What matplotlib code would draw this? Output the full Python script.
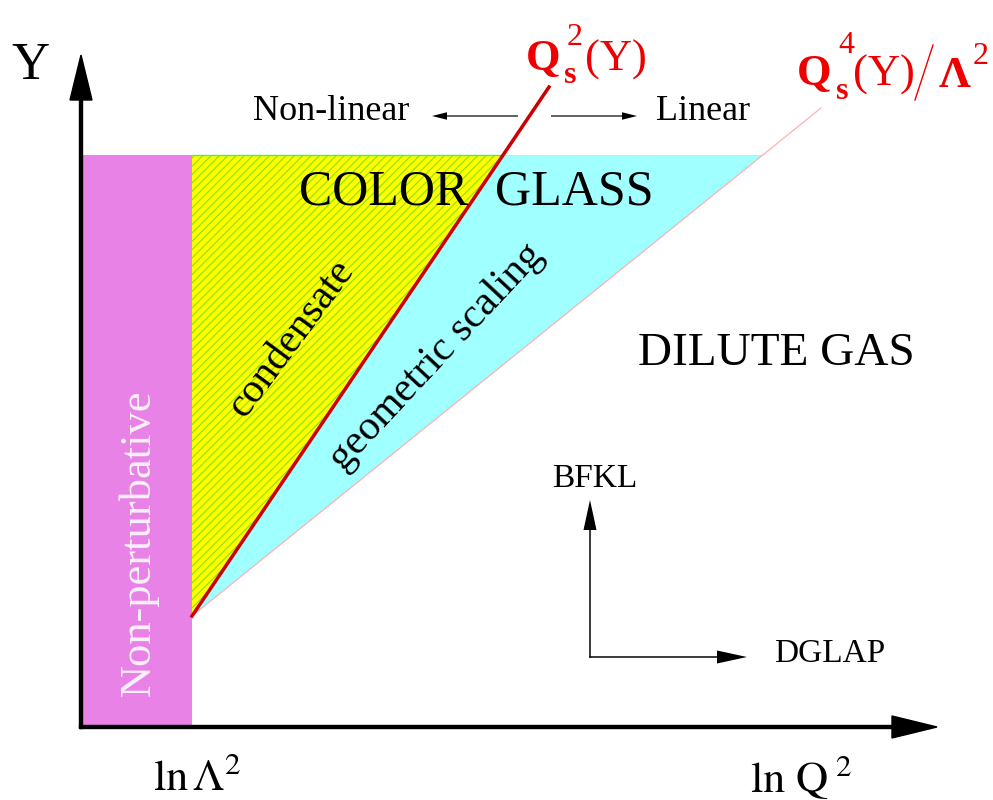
import numpy as np
import matplotlib
matplotlib.use("Agg")
import matplotlib.pyplot as plt
from matplotlib.patches import Polygon, Rectangle

plt.rcParams["font.family"] = ["Liberation Serif", "DejaVu Serif"]
plt.rcParams["mathtext.fontset"] = "stix"
plt.rcParams["hatch.linewidth"] = 0.8

# phase diagram in the (ln Q^2, Y) plane
ln_lambda2 = 1.11      # non-perturbative boundary
Y_max = 5.72           # top of the shaded regions

# saturation line Q_s^2(Y)
lnQ2_sat = np.array([1.11, 4.68])
Y_sat = np.array([1.11, 6.40])

# geometric scaling boundary Q_s^4(Y)/Lambda^2
lnQ2_geo = np.array([1.11, 7.40])
Y_geo = np.array([1.11, 6.19])

x_sat_top = np.interp(Y_max, Y_sat, lnQ2_sat)
x_geo_top = np.interp(Y_max, Y_geo, lnQ2_geo)

fig = plt.figure(figsize=(9.93, 8.0), dpi=100)
ax = fig.add_axes([0, 0, 1, 1])
ax.set_xlim(-0.81, 9.12)
ax.set_ylim(-0.73, 7.27)
ax.axis("off")

RED = "#EE0000"


def piece(x, y, s, size, bold=False):
    # small helper for the hand-set sub/superscript labels (x, y in pixels from top-left)
    ax.text((x - 81) / 100, (727 - y) / 100, s, fontsize=size, color=RED,
            fontweight="bold" if bold else "normal", ha="left", va="baseline")


# regions
ax.add_patch(Rectangle((0, 0), ln_lambda2, Y_max, facecolor="#E882E6",
                       edgecolor="none", zorder=1))
ax.add_patch(Polygon([(lnQ2_geo[0], Y_geo[0]), (x_sat_top, Y_max), (x_geo_top, Y_max)],
                     closed=True, facecolor="#A0FFFF", edgecolor="none", zorder=1))
ax.add_patch(Polygon([(ln_lambda2, Y_sat[0]), (ln_lambda2, Y_max), (x_sat_top, Y_max)],
                     closed=True, facecolor="#FFFF00", edgecolor="#86E400",
                     hatch="////", linewidth=0, zorder=2))
ax.plot([ln_lambda2, x_sat_top], [Y_max, Y_max], color="#50F050", lw=1.0, zorder=3)
ax.plot([x_sat_top, x_geo_top], [Y_max, Y_max], color="#FFD0D0", lw=0.6, zorder=3)

# boundary lines
ax.plot(lnQ2_geo, Y_geo, color="#FFB0B0", lw=0.9, zorder=3)
ax.plot(lnQ2_sat, Y_sat, color="#CC0000", lw=2.5, zorder=4)

# axes arrows
ax.arrow(0, -0.015, 0, 6.735, width=0.03, head_width=0.22, head_length=0.45,
         length_includes_head=True, fc="k", ec="k", zorder=5)
ax.arrow(-0.015, 0, 8.575, 0, width=0.03, head_width=0.22, head_length=0.45,
         length_includes_head=True, fc="k", ec="k", zorder=5)

# non-linear / linear arrows
ax.arrow(4.37, 6.11, -0.86, 0, width=0.012, head_width=0.075, head_length=0.15,
         length_includes_head=True, fc="k", ec="k", lw=0)
ax.arrow(4.70, 6.11, 0.86, 0, width=0.012, head_width=0.075, head_length=0.15,
         length_includes_head=True, fc="k", ec="k", lw=0)

# evolution directions
ax.arrow(5.09, 0.693, 0, 1.577, width=0.015, head_width=0.13, head_length=0.30,
         length_includes_head=True, fc="k", ec="k", lw=0)
ax.arrow(5.083, 0.70, 1.577, 0, width=0.015, head_width=0.13, head_length=0.30,
         length_includes_head=True, fc="k", ec="k", lw=0)

# labels
ax.text(-0.51, 6.61, "Y", fontsize=38, ha="center", va="center")
ax.text(0.72, -0.63, r"$\mathrm{ln}\,\Lambda^2$", fontsize=32, ha="left", va="baseline")
ax.text(6.69, -0.65, r"$\mathrm{ln\ Q}^{\,\,2}$", fontsize=32, ha="left", va="baseline")

ax.text(3.03, 5.35, "COLOR", fontsize=36, ha="center", va="center", zorder=6)
ax.text(4.93, 5.35, "GLASS", fontsize=36, ha="center", va="center", zorder=6)
ax.text(6.95, 3.73, "DILUTE GAS", fontsize=34, ha="center", va="center")
ax.text(2.10, 3.89, "condensate", fontsize=30, rotation=53.5,
        ha="center", va="center", rotation_mode="anchor", zorder=6)
ax.text(3.55, 3.70, "geometric scaling", fontsize=30, rotation=47,
        ha="center", va="center", rotation_mode="anchor", zorder=6)
ax.text(0.57, 1.84, "Non-perturbative", fontsize=32, rotation=90, color="#FAF0FA",
        ha="center", va="center", zorder=6)

ax.text(2.50, 6.15, "Non-linear", fontsize=26, ha="center", va="center")
ax.text(6.22, 6.15, "Linear", fontsize=26, ha="center", va="center")
ax.text(5.14, 2.48, "BFKL", fontsize=24, ha="center", va="center")
ax.text(7.49, 0.73, "DGLAP", fontsize=24, ha="center", va="center")

# Q_s^2(Y)
piece(526, 70, "Q", 32, bold=True)
piece(564, 83, "s", 23, bold=True)
piece(567, 45, "2", 23)
piece(585, 71, "(Y)", 32)

# Q_s^4(Y) / Lambda^2
piece(797, 85, "Q", 32, bold=True)
piece(836, 99, "s", 23, bold=True)
piece(838, 53, "4", 23)
piece(853, 86, "(Y)", 32)
ax.plot([(915 - 81) / 100, (933 - 81) / 100], [(727 - 100) / 100, (727 - 45) / 100],
        color=RED, lw=1.0)
piece(939, 87, "Λ", 32, bold=True)
piece(973, 64, "2", 23)

fig.savefig("out.png", dpi=100)
